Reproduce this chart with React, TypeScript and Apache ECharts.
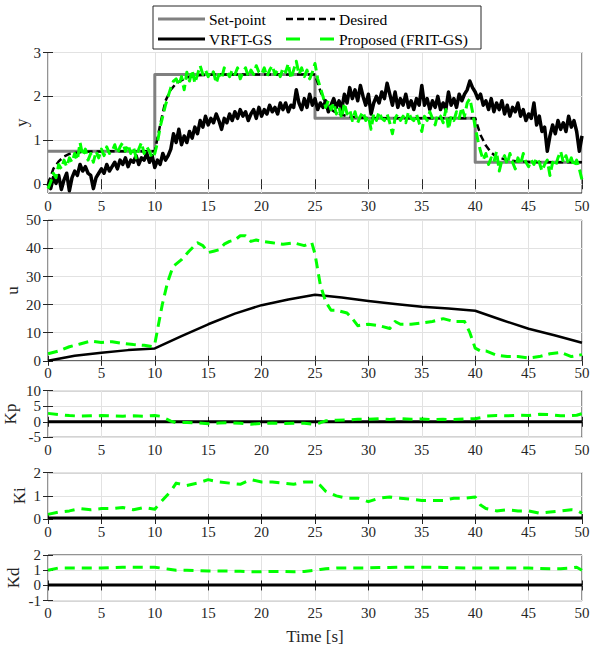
import React, { useEffect, useRef } from "react";
import * as echarts from "echarts";

// ---------- data ----------
const DT = 0.25; // sample step of the noisy output signals [s]

const yVRFT = [
  0.0, -0.1, 0.15, 0.02,
  0.2, -0.12, 0.1, 0.25,
  -0.15, 0.15, 0.3, 0.2,
  0.45, 0.3, 0.4, 0.25,
  0.2, -0.1, 0.15, 0.25,
  0.35, 0.25, 0.45, 0.3,
  0.4, 0.5, 0.35, 0.55,
  0.45, 0.6, 0.4, 0.55,
  0.5, 0.65, 0.45, 0.6,
  0.55, 0.7, 0.5, 0.65,
  0.38, 0.55, 0.45, 0.7,
  0.55, 0.65, 0.8, 1.15,
  0.95, 1.25, 0.9, 1.1,
  0.95, 1.2, 1.05, 1.3,
  1.15, 1.45, 1.3, 1.55,
  1.35, 1.5, 1.4, 1.6,
  1.45, 1.25, 1.5, 1.4,
  1.6, 1.45, 1.65, 1.5,
  1.7, 1.55, 1.65, 1.45,
  1.6, 1.7, 1.5, 1.75,
  1.55, 1.7, 1.6, 1.8,
  1.65, 1.75, 1.6, 1.85,
  1.7, 1.85, 1.65, 1.8,
  1.75, 2.15, 1.85, 1.7,
  1.95, 1.75, 2.05, 1.8,
  1.95, 1.7, 1.85, 1.75,
  1.9, 1.65, 1.8, 1.95,
  1.75, 1.9, 1.7, 2.05,
  1.85, 2.2, 1.95, 2.15,
  1.9, 2.25, 2.0, 1.8,
  2.05, 1.6, 1.85, 2.0,
  1.85, 2.1, 1.95, 2.3,
  2.05, 1.8, 2.1, 1.75,
  1.95, 1.8, 2.05, 1.75,
  1.9, 1.7, 1.95, 1.8,
  2.25, 1.8, 1.95, 1.7,
  1.9, 1.75, 2.0, 1.7,
  1.85, 1.7, 2.1, 1.8,
  1.95, 1.75, 2.05, 1.9,
  2.05, 2.15, 2.35, 2.2,
  2.1, 1.95, 2.05, 1.8,
  1.9, 1.7, 1.95, 1.65,
  1.85, 1.7, 1.9, 1.6,
  1.8, 1.55, 1.75, 1.65,
  1.85, 1.55, 1.7, 1.45,
  1.6, 1.5, 1.85, 1.35,
  1.55, 1.2, 1.3, 0.75,
  1.1, 1.35, 1.15, 1.45,
  1.25, 1.4, 1.2, 1.55,
  1.3, 1.45, 1.2, 0.75,
  1.1,
];

const yFRIT = [
  -0.1, 0.05, 0.25, 0.15,
  0.45, 0.35, 0.55, 0.4,
  0.6, 0.5, 0.7, 0.55,
  0.95, 0.65, 0.8, 0.55,
  0.7, 0.5, 0.75, 0.6,
  0.8, 0.65, 0.85, 0.7,
  0.75, 0.9, 0.7, 0.85,
  0.95, 0.75, 0.9, 0.7,
  0.85, 0.6, 0.8, 0.95,
  0.7, 0.85, 0.75, 0.6,
  0.7, 0.95, 1.3, 1.55,
  1.8, 2.0, 2.2, 2.35,
  2.4, 2.25, 2.45, 2.15,
  2.55, 2.35, 2.6, 2.3,
  2.5, 2.7, 2.5, 2.6,
  2.45, 2.6, 2.55, 2.3,
  2.5, 2.4, 2.65, 2.55,
  2.45, 2.6, 2.5, 2.65,
  2.4, 2.55, 2.65, 2.45,
  2.6, 2.5, 2.7, 2.55,
  2.5, 2.65, 2.45, 2.6,
  2.7, 2.5, 2.6, 2.45,
  2.65, 2.55, 2.75, 2.4,
  2.6, 2.8, 2.5, 2.65,
  2.45, 2.6, 2.4, 2.55,
  2.75, 2.4, 2.2, 2.0,
  1.75, 1.9, 1.7, 1.85,
  1.6, 1.75, 1.5, 1.85,
  1.6, 1.7, 1.45, 1.65,
  1.4, 1.55, 1.65, 1.45,
  1.55, 1.25, 1.6, 1.45,
  1.65, 1.5, 1.45, 1.6,
  1.4, 1.15, 1.5, 1.6,
  1.45, 1.55, 1.4, 1.65,
  1.5, 1.45, 1.6, 1.4,
  1.2, 1.55, 1.45, 1.65,
  1.5, 1.35, 1.6, 1.55,
  1.4, 1.7, 1.25, 1.55,
  1.45, 1.65, 1.5, 1.75,
  1.55, 1.85, 1.95, 1.65,
  1.3, 1.0, 0.75, 0.55,
  0.7, 0.45, 0.6, 0.5,
  0.75, 0.3, 0.55, 0.65,
  0.45, 0.7, 0.5, 0.35,
  0.6, 0.45, 0.7, 0.5,
  0.4, 0.55, 0.45, 0.6,
  0.5, 0.3, 0.45, 0.55,
  0.2, 0.5, 0.4, 0.6,
  0.75, 0.5, 0.65, 0.45,
  0.6, 0.4, 0.55, 0.35,
  0.1,
];

const spT = [0, 10, 10, 25, 25, 40, 40, 50];
const spV = [0.75, 0.75, 2.5, 2.5, 1.5, 1.5, 0.5, 0.5];

const desT = [0, 0.5, 1, 1.5, 2, 3, 4, 6, 10, 10.5, 11, 11.5, 12, 13, 14, 16, 25, 25.5, 26, 26.5, 27, 28, 29, 31, 40, 40.5, 41, 41.5, 42, 43, 44, 46, 50];
const desV = [0, 0.35, 0.52, 0.63, 0.69, 0.73, 0.745, 0.75, 0.75, 1.35, 1.9, 2.15, 2.3, 2.43, 2.48, 2.5, 2.5, 2.12, 1.85, 1.7, 1.62, 1.55, 1.52, 1.5, 1.5, 1.12, 0.88, 0.72, 0.62, 0.55, 0.52, 0.5, 0.5];

const uVrftT = [0, 2.5, 5, 7.5, 10, 12.5, 15, 17.5, 20, 22.5, 25, 27.5, 30, 32.5, 35, 37.5, 40, 42.5, 45, 47.5, 50];
const uVrftV = [0, 1.8, 2.9, 3.8, 4.4, 8.8, 13.0, 16.8, 19.8, 21.8, 23.5, 22.5, 21.3, 20.2, 19.2, 18.6, 17.8, 14.5, 11.4, 9.0, 6.4];

const uFritT = [0, 1, 2, 3, 4, 5, 6, 7, 8, 9, 9.8, 10, 10.3, 10.7, 11.2, 11.7, 12.5, 13.2, 14, 14.5, 15, 15.5, 16, 16.5, 17, 17.5, 18, 18.5, 19, 19.5, 20, 21, 22, 23, 24, 24.7, 25, 25.5, 26, 26.5, 27, 28, 28.5, 29, 30, 31, 32, 32.5, 33, 34, 35, 36, 37, 38, 39, 39.5, 40, 40.5, 41, 42, 43, 44, 45, 46, 47, 48, 49, 50];
const uFritV = [2.5, 3.5, 5, 6, 7, 6.5, 6.8, 6.2, 5.8, 5.5, 5.0, 6, 12, 20, 28, 33.5, 36, 39, 42, 41, 38.5, 39, 39.5, 41.5, 42.5, 43, 44.5, 44.5, 42.5, 43, 42.5, 42, 41.5, 42, 41, 42, 38, 27, 21, 18, 18, 17, 15, 12.5, 13, 12.5, 11.5, 14, 13, 13, 13.5, 14, 15, 14, 14, 10, 4.5, 3.5, 3.5, 2, 1.5, 1.5, 1, 1.5, 2.5, 3, 1.5, 2.2];

const kT = [0, 1, 2, 3, 4, 5, 6, 7, 8, 9, 10, 10.5, 11, 11.5, 12, 13, 14, 15, 16, 17, 18, 19, 20, 21, 22, 23, 24, 25, 25.5, 26, 27, 28, 29, 30, 31, 32, 33, 34, 35, 36, 37, 38, 39, 40, 40.5, 41, 42, 43, 44, 45, 46, 47, 48, 49, 49.5, 50];
const kpFrit = [2.7, 2.3, 2.0, 1.8, 1.9, 2.0, 1.9, 1.8, 1.9, 1.8, 2.0, 1.8, 1.0, 0.2, -0.3, -0.2, -0.4, -0.6, -0.4, -0.3, -0.5, -0.8, -0.5, -0.4, -0.6, -0.5, -0.5, -0.8, -0.3, 0.3, 0.5, 0.6, 0.8, 0.8, 1.0, 0.7, 1.0, 0.8, 0.9, 0.7, 0.8, 0.7, 0.9, 1.0, 1.3, 1.8, 2.0, 1.9, 2.1, 2.0, 2.4, 2.3, 1.9, 2.0, 2.1, 2.6];
const kiFrit = [0.2, 0.3, 0.35, 0.45, 0.4, 0.45, 0.45, 0.5, 0.4, 0.5, 0.42, 0.7, 0.95, 1.2, 1.55, 1.45, 1.55, 1.7, 1.6, 1.55, 1.5, 1.7, 1.6, 1.6, 1.55, 1.5, 1.6, 1.6, 1.45, 1.2, 1.0, 0.9, 0.9, 0.75, 0.9, 0.95, 0.9, 0.85, 0.8, 0.8, 0.8, 0.9, 0.9, 0.95, 0.6, 0.45, 0.35, 0.4, 0.35, 0.35, 0.25, 0.3, 0.35, 0.4, 0.38, 0.25];
const kdFrit = [1.0, 1.15, 1.15, 1.15, 1.15, 1.15, 1.17, 1.2, 1.2, 1.2, 1.2, 1.15, 1.1, 1.05, 1.0, 1.0, 0.97, 0.95, 0.95, 0.95, 0.93, 0.9, 0.9, 0.92, 0.92, 0.9, 0.92, 1.0, 1.05, 1.1, 1.15, 1.15, 1.15, 1.15, 1.18, 1.18, 1.2, 1.2, 1.2, 1.2, 1.18, 1.17, 1.15, 1.15, 1.15, 1.15, 1.15, 1.15, 1.15, 1.15, 1.12, 1.1, 1.1, 1.15, 1.2, 1.0];

const gainT = [0, 50];
const kpVrft = [0, 0];
const kiVrft = [0.04, 0.04];
const kdVrft = [0.03, 0.03];

const yTicks = [0, 1, 2, 3];
const axisNames = ["y", "u", "Kp", "Ki", "Kd"];

// ---------- helpers ----------
const FONT = "Liberation Serif";
const TXT = "#262626";
const GREEN = "#00ff00";
const zip = (t: number[], v: number[]) => t.map((x, i) => [x, v[i]]);
const tNoisy = yVRFT.map((_, i) => i * DT);

export default function App() {
  const ref = useRef<HTMLDivElement>(null);
  useEffect(() => {
    if (!ref.current) return;
    const chart = echarts.init(ref.current, undefined, { renderer: "svg" });

    const L = 48;
    const W = 534;
    const gridDefs = [
      { top: 52.5, height: 140.5 },
      { top: 220.3, height: 140.5 },
      { top: 390.7, height: 46.6 },
      { top: 472.7, height: 46.3 },
      { top: 555, height: 45.7 },
    ];
    const yRanges = [
      { min: -0.2, max: 3 },
      { min: 0, max: 50, interval: 10 },
      { min: -5, max: 10, interval: 5 },
      { min: 0, max: 2, interval: 1 },
      { min: -1, max: 2, interval: 1 },
    ];
    const nameGaps = [18, 27, 29, 20, 26];

    const grid = gridDefs.map((g) => ({
      left: L,
      width: W,
      top: g.top,
      height: g.height,
      containLabel: false,
      outerBoundsMode: "none",
      show: true,
      borderColor: TXT,
      borderWidth: 1,
      backgroundColor: "transparent",
    }));

    const lblStyle = { fontSize: 15, fontFamily: FONT, color: TXT, lineHeight: 13 };
    const tick = { inside: true, length: 5, lineStyle: { color: TXT, width: 1 } };
    const split = { show: true, lineStyle: { color: "#e2e2e2", width: 1 } };

    const xAxis: any[] = [];
    const yAxis: any[] = [];
    gridDefs.forEach((_, i) => {
      xAxis.push({
        type: "value",
        gridIndex: i,
        min: 0,
        max: 50,
        interval: 5,
        position: "bottom",
        axisLine: { show: false },
        axisTick: tick,
        axisLabel: { ...lblStyle, margin: 6 },
        splitLine: split,
        name: i === 4 ? "Time [s]" : "",
        nameLocation: "middle",
        nameGap: 27,
        nameMoveOverlap: false,
        nameTextStyle: { fontSize: 17, fontFamily: FONT, color: TXT },
      });
      xAxis.push({
        type: "value",
        gridIndex: i,
        min: 0,
        max: 50,
        interval: 5,
        position: "top",
        axisLine: { show: false },
        axisTick: tick,
        axisLabel: { show: false },
        splitLine: { show: false },
      });
      const r: any = yRanges[i];
      const custom = i === 0;
      yAxis.push({
        type: "value",
        gridIndex: i,
        min: r.min,
        max: r.max,
        ...(custom ? {} : { interval: r.interval }),
        position: "left",
        axisLine: { show: false },
        axisTick: custom ? { ...tick, customValues: yTicks } : tick,
        axisLabel: custom
          ? { ...lblStyle, margin: 7, customValues: yTicks }
          : { ...lblStyle, margin: 7 },
        splitLine: split,
        name: axisNames[i],
        nameLocation: "middle",
        nameGap: nameGaps[i],
        nameMoveOverlap: false,
        nameTextStyle: { fontSize: 17, fontFamily: FONT, color: TXT },
      });
      yAxis.push({
        type: "value",
        gridIndex: i,
        min: r.min,
        max: r.max,
        ...(custom ? {} : { interval: r.interval }),
        position: "right",
        axisLine: { show: false },
        axisTick: custom ? { ...tick, customValues: yTicks } : tick,
        axisLabel: { show: false },
        splitLine: { show: false },
      });
    });

    const line = (name: string, gi: number, data: number[][], color: string, width: number, type: any = "solid") => ({
      name,
      type: "line",
      xAxisIndex: gi * 2,
      yAxisIndex: gi * 2,
      data,
      symbol: "none",
      showSymbol: false,
      clip: true,
      lineStyle: { color, width, type, cap: "butt", join: "round" },
      emphasis: { disabled: true },
    });

    const series = [
      line("Set-point", 0, zip(spT, spV), "#808080", 3),
      line("Desired", 0, zip(desT, desV), "#000", 2.5, [7, 4]),
      line("VRFT-GS", 0, zip(tNoisy, yVRFT), "#000", 3.5),
      line("Proposed (FRIT-GS)", 0, zip(tNoisy, yFRIT), GREEN, 3, [10, 5]),
      line("VRFT-GS", 1, zip(uVrftT, uVrftV), "#000", 2.5),
      line("Proposed (FRIT-GS)", 1, zip(uFritT, uFritV), GREEN, 3, [10, 6]),
      line("VRFT-GS", 2, zip(gainT, kpVrft), "#000", 3),
      line("Proposed (FRIT-GS)", 2, zip(kT, kpFrit), GREEN, 3, [10, 7]),
      line("VRFT-GS", 3, zip(gainT, kiVrft), "#000", 3),
      line("Proposed (FRIT-GS)", 3, zip(kT, kiFrit), GREEN, 3, [10, 7]),
      line("VRFT-GS", 4, zip(gainT, kdVrft), "#000", 3),
      line("Proposed (FRIT-GS)", 4, zip(kT, kdFrit), GREEN, 3, [10, 7]),
    ];

    const lg = (x: number, y: number, text: string) => ({
      type: "text",
      x,
      y,
      style: {
        text,
        fontSize: 15.5,
        fontFamily: FONT,
        fill: "#000",
        verticalAlign: "middle",
        textVerticalAlign: "middle",
      },
    });
    const graphic = [
      { type: "rect", shape: { x: 153, y: 6, width: 328, height: 43 }, style: { fill: "#fff", stroke: TXT, lineWidth: 1 } },
      { type: "line", shape: { x1: 158, y1: 19, x2: 205, y2: 19 }, style: { stroke: "#808080", lineWidth: 3 } },
      lg(209, 19, "Set-point"),
      { type: "line", shape: { x1: 286, y1: 19, x2: 335, y2: 19 }, style: { stroke: "#000", lineWidth: 2.5, lineDash: [7, 4] } },
      lg(339, 19, "Desired"),
      { type: "line", shape: { x1: 158, y1: 39, x2: 205, y2: 39 }, style: { stroke: "#000", lineWidth: 3 } },
      lg(209, 39, "VRFT-GS"),
      { type: "line", shape: { x1: 286, y1: 39, x2: 335, y2: 39 }, style: { stroke: GREEN, lineWidth: 3, lineDash: [14, 20] } },
      lg(339, 39, "Proposed (FRIT-GS)"),
    ];

    chart.setOption({
      animation: false,
      backgroundColor: "#fff",
      textStyle: { fontFamily: FONT },
      grid,
      xAxis,
      yAxis,
      series,
      graphic,
    });
    return () => chart.dispose();
  }, []);

  return <div ref={ref} style={{ position: "absolute", left: 0, top: 0, width: 596, height: 649 }} />;
}
